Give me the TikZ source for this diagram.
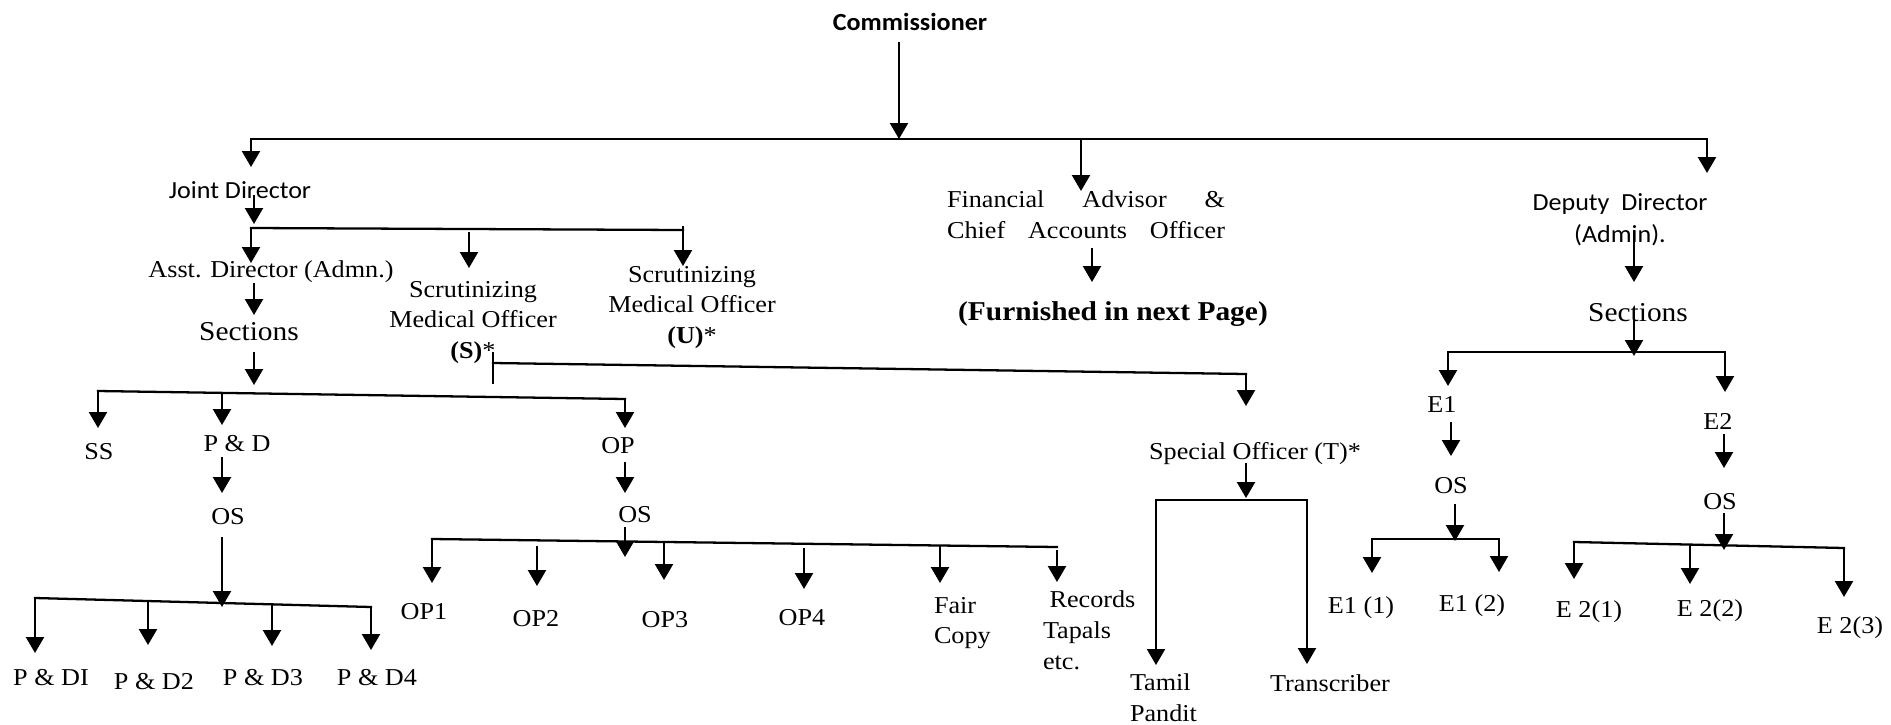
\documentclass[tikz,border=0pt]{standalone}
\usepackage{fontspec}
\setmainfont{Liberation Serif}[FakeStretch=1.08]
\newfontfamily\calibri{Carlito}[FakeStretch=1.06]
\usetikzlibrary{arrows.meta}
\tikzset{txt/.style = {inner sep=0pt, outer sep=0pt, anchor=base, font=\fontsize{13.8}{17.6}\selectfont},
         big/.style = {txt, font=\fontsize{15.5}{19}\selectfont},
         sans/.style = {txt, font=\calibri\fontsize{14}{17.8}\selectfont},
         multi/.style = {txt, anchor=north, align=center},
         bar/.style = {line width=1.3pt, line cap=rect},
         arr/.style = {line width=1.3pt, -{Triangle[length=0.32cm,width=0.36cm]}}}

\begin{document}
\begin{tikzpicture}[x=0.02cm, y=-0.02cm]
  \useasboundingbox (0,0) rectangle (1891,724);

  \node[sans, font=\calibri\bfseries\fontsize{14}{17.8}\selectfont] (comm) at (910,30) {Commissioner};
  \node[sans] (jd) at (240,198) {Joint Director};
  \node[multi] (fa) at (1086,191) {\makebox[5.56cm][s]{Financial Advisor \&}\\\makebox[5.56cm][s]{Chief Accounts Officer}};
  \node[multi, font=\calibri\fontsize{14}{17.8}\selectfont] (dd) at (1620,194) {Deputy\ \ Director\\(Admin).};
  \node[txt] (asst) at (271,277) {Asst. Director (Admn.)};
  \node[multi] (smos) at (473,281) {Scrutinizing\\Medical Officer\\\textbf{(S)}*};
  \node[multi] (smou) at (692,266) {Scrutinizing\\Medical Officer\\\textbf{(U)}*};
  \node[big, font=\bfseries\fontsize{15.5}{19}\selectfont] (furn) at (1113,320) {(Furnished in next Page)};
  \node[big] (secl) at (249,340) {Sections};
  \node[big] (secr) at (1638,321) {Sections};
  \node[txt] (ss) at (99,459) {SS};
  \node[txt] (pd) at (237,451) {P \& D};
  \node[txt] (op) at (618,453) {OP};
  \node[txt] (so) at (1255,459) {Special Officer (T)*};
  \node[txt] (e1) at (1442,412) {E1};
  \node[txt] (e2) at (1718,429) {E2};
  \node[txt] (pdos) at (228,524) {OS};
  \node[txt] (opos) at (635,522) {OS};
  \node[txt] (e1os) at (1451,493) {OS};
  \node[txt] (e2os) at (1720,509) {OS};
  \node[txt] (pd1) at (51,685) {P \& DI};
  \node[txt] (pd2) at (154,689) {P \& D2};
  \node[txt] (pd3) at (263,685) {P \& D3};
  \node[txt] (pd4) at (377,685) {P \& D4};
  \node[txt] (op1) at (424,619) {OP1};
  \node[txt] (op2) at (536,626) {OP2};
  \node[txt] (op3) at (665,627) {OP3};
  \node[txt] (op4) at (802,625) {OP4};
  \node[multi, align=left, anchor=north west] (fair) at (934,597) {Fair\\Copy};
  \node[multi, align=left, anchor=north west] (rec) at (1043,591) {\ Records\\Tapals\\etc.};
  \node[multi, align=left, anchor=north west] (tamil) at (1130,674) {Tamil\\Pandit};
  \node[txt] (trans) at (1330,691) {Transcriber};
  \node[txt] (e11) at (1361,613) {E1 (1)};
  \node[txt] (e12) at (1472,611) {E1 (2)};
  \node[txt] (e21) at (1589,617) {E 2(1)};
  \node[txt] (e22) at (1710,616) {E 2(2)};
  \node[txt] (e23) at (1850,633) {E 2(3)};

  \coordinate (b0l) at (251,139);
  \coordinate (b0c) at (899,139);
  \coordinate (b0f) at (1081,139);
  \coordinate (b0r) at (1707,139);
  \coordinate (b1l) at (251,228);
  \coordinate (b1j) at (254,228);
  \coordinate (b1s) at (469,229);
  \coordinate (b1r) at (683,230);
  \coordinate (b2l) at (98,391);
  \coordinate (b2p) at (222,393);
  \coordinate (b2s) at (254,393);
  \coordinate (b2r) at (625,399);
  \coordinate (b3l) at (35,598);
  \coordinate (b3a) at (148,601);
  \coordinate (b3o) at (222,607);
  \coordinate (b3b) at (272,604);
  \coordinate (b3r) at (371,607);
  \coordinate (b4l) at (432,539);
  \coordinate (b4a) at (537,540);
  \coordinate (b4o) at (625,557);
  \coordinate (b4b) at (664,542);
  \coordinate (b4c) at (804,544);
  \coordinate (b4d) at (940,545);
  \coordinate (b4r) at (1057,547);
  \coordinate (b5t) at (493,353);
  \coordinate (b5b) at (493,383);
  \coordinate (b5l) at (493,363);
  \coordinate (b5r) at (1246,374);
  \coordinate (b6l) at (1156,500);
  \coordinate (b6c) at (1246,498);
  \coordinate (b6r) at (1307,500);
  \coordinate (xfa) at (1092,248);
  \coordinate (b7l) at (1448,352);
  \coordinate (b7c) at (1634,356);
  \coordinate (b7r) at (1725,352);
  \coordinate (b8l) at (1372,539);
  \coordinate (b8c) at (1455,541);
  \coordinate (b8r) at (1499,539);
  \coordinate (b9l) at (1574,542);
  \coordinate (b9m) at (1690,545);
  \coordinate (b9c) at (1724,550);
  \coordinate (b9r) at (1844,548);

  \draw[bar] (b0l) -- (b0r);
  \draw[bar] (b1l) -- (b1r);
  \draw[bar] (b2l) -- (b2r);
  \draw[bar] (b3l) -- (b3r);
  \draw[bar] (b4l) -- (b4r);
  \draw[bar] (b5t) -- (b5b);
  \draw[bar] (b5l) -- (b5r);
  \draw[bar] (b6l) -- (b6r);
  \draw[bar] (b7l) -- (b7r);
  \draw[bar] (b8l) -- (b8r);
  \draw[bar] (b9l) -- (b9r);

  \draw[arr, shorten <=0.24cm] (b0c |- comm.base) -- (b0c);
  \draw[arr, shorten >=0.62cm] (b0l) -- (b0l |- jd.base);
  \draw[arr] (b0f) -- (b0f |- fa.north);
  \draw[arr, shorten >=0.42cm] (b0r) -- (b0r |- dd.north);
  \draw[arr, shorten <=-0.06cm, shorten >=0.08cm] (b1j |- jd.base) -- (b1j);
  \draw[arr, shorten >=0.28cm] (b1l) -- (b1l |- asst.base);
  \draw[arr, shorten <=0.06cm, shorten >=0.26cm] (b1s) -- (b1s |- smos.north);
  \draw[arr, shorten <=-0.08cm] (b1r) -- (b1r |- smou.north);
  \draw[arr, shorten <=0.12cm, shorten >=0.5cm] (b2s |- asst.base) -- (b2s |- secl.base);
  \draw[arr, shorten <=0.24cm, shorten >=0.16cm] (b2s |- secl.base) -- (b2s);
  \draw[arr, shorten >=0.62cm] (b2l) -- (b2l |- ss.base);
  \draw[arr, shorten >=0.52cm] (b2p) -- (b2p |- pd.base);
  \draw[arr, shorten >=0.5cm] (b2r) -- (b2r |- op.base);
  \draw[arr, shorten <=0.12cm, shorten >=0.62cm] (b2p |- pd.base) -- (b2p |- pdos.base);
  \draw[arr, shorten <=0.26cm] (b3o |- pdos.base) -- (b3o);
  \draw[arr, shorten >=0.64cm] (b3l) -- (b3l |- pd1.base);
  \draw[arr, shorten >=0.88cm] (b3a) -- (b3a |- pd2.base);
  \draw[arr, shorten >=0.78cm] (b3b) -- (b3b |- pd3.base);
  \draw[arr, shorten >=0.7cm] (b3r) -- (b3r |- pd4.base);
  \draw[arr, shorten <=0.18cm, shorten >=0.58cm] (b2r |- op.base) -- (b2r |- opos.base);
  \draw[arr, shorten <=0.1cm] (b4o |- opos.base) -- (b4o);
  \draw[arr, shorten >=0.72cm] (b4l) -- (b4l |- op1.base);
  \draw[arr, shorten <=0.12cm, shorten >=0.8cm] (b4a) -- (b4a |- op2.base);
  \draw[arr, shorten >=0.94cm] (b4b) -- (b4b |- op3.base);
  \draw[arr, shorten <=0.08cm, shorten >=0.72cm] (b4c) -- (b4c |- op4.base);
  \draw[arr, shorten >=0.28cm] (b4d) -- (b4d |- fair.north);
  \draw[arr, shorten <=0.06cm, shorten >=0.18cm] (b4r) -- (b4r |- rec.north);
  \draw[arr, shorten >=1.06cm] (b5r) -- (b5r |- so.base);
  \draw[arr, shorten <=0.08cm] (b6c |- so.base) -- (b6c);
  \draw[arr, shorten >=0.18cm] (b6l) -- (b6l |- tamil.north);
  \draw[arr, shorten >=0.54cm] (b6r) -- (b6r |- trans.base);
  \draw[arr, shorten >=0.76cm] (xfa) -- (xfa |- furn.base);
  \draw[arr, shorten <=0.72cm, shorten >=0.78cm] (b7c |- dd.north) -- (b7c |- secr.base);
  \draw[arr, shorten <=-0.26cm] (b7c |- secr.base) -- (b7c);
  \draw[arr, shorten >=0.52cm] (b7l) -- (b7l |- e1.base);
  \draw[arr, shorten >=0.74cm] (b7r) -- (b7r |- e2.base);
  \draw[arr, shorten <=0.2cm, shorten >=0.74cm] (e1os |- e1.base) -- (e1os.base);
  \draw[arr, shorten <=0.22cm] (b8c |- e1os.base) -- (b8c);
  \draw[arr, shorten >=0.8cm] (b8l) -- (b8l |- e11.base);
  \draw[arr, shorten >=0.78cm] (b8r) -- (b8r |- e12.base);
  \draw[arr, shorten <=0.1cm, shorten >=0.82cm] (b9c |- e2.base) -- (b9c |- e2os.base);
  \draw[arr, shorten <=0.08cm] (b9c |- e2os.base) -- (b9c);
  \draw[arr, shorten >=0.76cm] (b9l) -- (b9l |- e21.base);
  \draw[arr, shorten >=0.64cm] (b9m) -- (b9m |- e22.base);
  \draw[arr, shorten >=0.72cm] (b9r) -- (b9r |- e23.base);
\end{tikzpicture}
\end{document}
